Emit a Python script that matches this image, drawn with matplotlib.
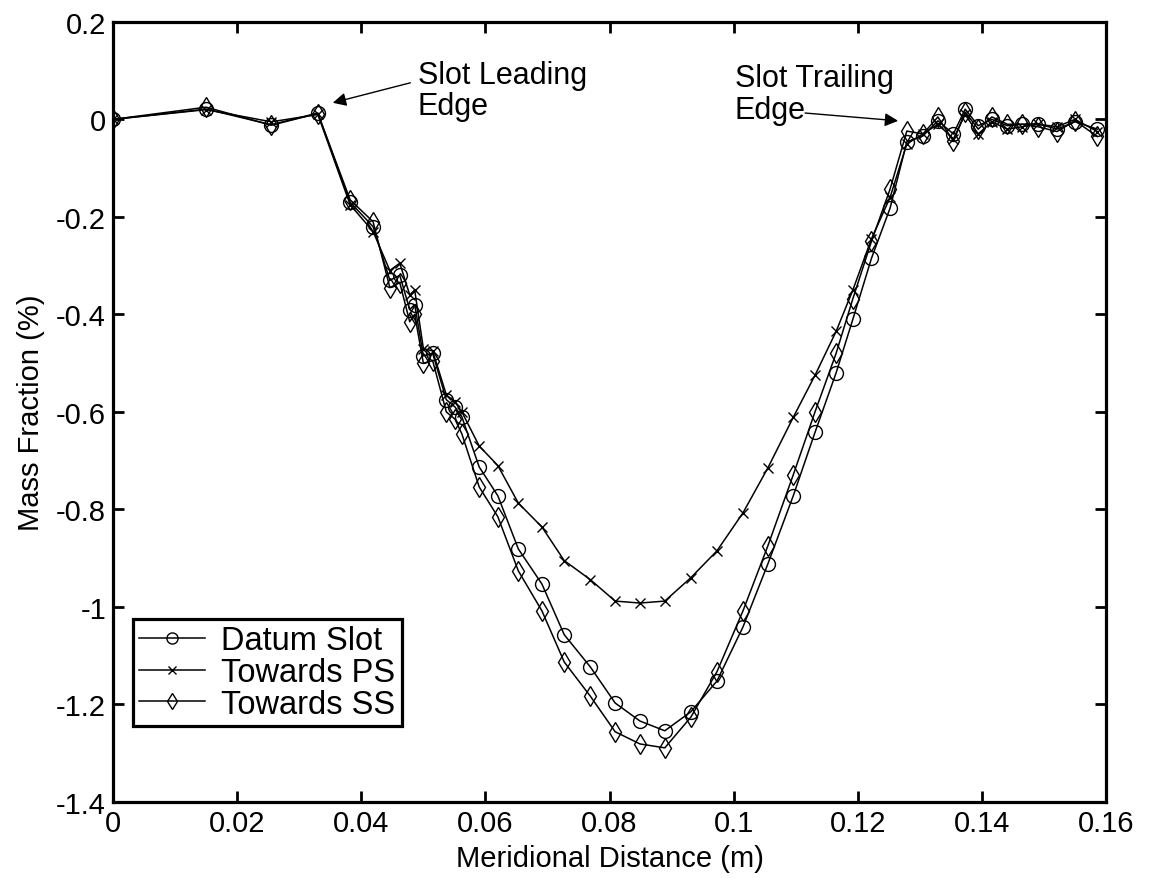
import matplotlib
matplotlib.use("Agg")
import matplotlib.pyplot as plt

# ---- data ----
x = [0.0, 0.015, 0.0255, 0.033, 0.0382, 0.0419, 0.0446, 0.0462, 0.0478, 0.0486,
     0.0500, 0.0515, 0.0537, 0.0551, 0.0562, 0.0590, 0.0620, 0.0653, 0.0691, 0.0727,
     0.0769, 0.0809, 0.0849, 0.0889, 0.0931, 0.0973, 0.1015, 0.1055, 0.1096, 0.1131,
     0.1165, 0.1192, 0.1222, 0.1252, 0.1279, 0.1305, 0.1329, 0.1354, 0.1373, 0.1394,
     0.1416, 0.1441, 0.1465, 0.1490, 0.1521, 0.1550, 0.1586]

datum = [0.0, 0.021, -0.011, 0.013, -0.170, -0.220, -0.330, -0.320, -0.390, -0.380,
         -0.485, -0.480, -0.575, -0.590, -0.610, -0.713, -0.772, -0.881, -0.953, -1.057,
         -1.123, -1.197, -1.234, -1.254, -1.215, -1.152, -1.041, -0.912, -0.772, -0.642,
         -0.520, -0.410, -0.285, -0.182, -0.046, -0.034, -0.003, -0.030, 0.021, -0.013,
         0.000, -0.013, -0.010, -0.009, -0.020, -0.005, -0.020]

towards_ps = [0.0, 0.020, -0.005, 0.010, -0.175, -0.230, -0.310, -0.295, -0.360, -0.350,
              -0.470, -0.475, -0.565, -0.580, -0.600, -0.670, -0.710, -0.787, -0.836, -0.905,
              -0.944, -0.988, -0.992, -0.988, -0.940, -0.885, -0.807, -0.715, -0.611, -0.525,
              -0.435, -0.350, -0.245, -0.160, -0.050, -0.030, -0.010, -0.040, 0.010, -0.030,
              -0.005, -0.020, -0.015, -0.010, -0.015, 0.000, -0.025]

towards_ss = [0.0, 0.025, -0.012, 0.012, -0.165, -0.210, -0.345, -0.335, -0.415, -0.400,
              -0.500, -0.495, -0.600, -0.615, -0.645, -0.754, -0.815, -0.926, -1.008, -1.113,
              -1.183, -1.256, -1.281, -1.289, -1.226, -1.133, -1.008, -0.875, -0.729, -0.600,
              -0.480, -0.368, -0.250, -0.143, -0.024, -0.030, 0.005, -0.045, 0.015, -0.020,
              0.005, -0.010, -0.010, -0.015, -0.025, -0.003, -0.035]

series_labels = ["Datum Slot", "Towards PS", "Towards SS"]
xticks = [0, 0.02, 0.04, 0.06, 0.08, 0.1, 0.12, 0.14, 0.16]
xtick_labels = ["0", "0.02", "0.04", "0.06", "0.08", "0.1", "0.12", "0.14", "0.16"]
yticks = [0.2, 0, -0.2, -0.4, -0.6, -0.8, -1, -1.2, -1.4]
ytick_labels = ["0.2", "0", "-0.2", "-0.4", "-0.6", "-0.8", "-1", "-1.2", "-1.4"]

# ---- figure ----
fig = plt.figure(figsize=(11.5, 8.79), dpi=100)
ax = fig.add_axes([0.0983, 0.0865, 0.8635, 0.8875])

font = ["Liberation Sans", "DejaVu Sans"]

lw = 1.1
ax.plot(x, datum, color="black", lw=lw, marker="o", ms=10, mfc="none",
        mec="black", mew=1.0, label=series_labels[0])
ax.plot(x, towards_ps, color="black", lw=lw, marker="x", ms=7,
        mec="black", mew=1.0, label=series_labels[1])
ax.plot(x, towards_ss, color="black", lw=lw, marker="d", ms=10.5, mfc="none",
        mec="black", mew=1.0, label=series_labels[2])

ax.set_xlim(0, 0.16)
ax.set_ylim(-1.4, 0.2)
ax.set_xticks(xticks)
ax.set_xticklabels(xtick_labels, family=font, fontsize=21)
ax.set_yticks(yticks)
ax.set_yticklabels(ytick_labels, family=font, fontsize=21)
ax.tick_params(direction="in", length=8, width=2, top=True, right=True, pad=5)
for sp in ax.spines.values():
    sp.set_linewidth(2.3)

ax.set_xlabel("Meridional Distance (m)", family=font, fontsize=21, labelpad=5)
ax.set_ylabel("Mass Fraction (%)", family=font, fontsize=21, labelpad=8)

# annotations
ax.text(0.0491, 0.060, "Slot Leading\nEdge", fontsize=22, family=font,
        ha="left", va="center", linespacing=1.05)
ax.annotate("", xy=(0.0354, 0.034), xytext=(0.0479, 0.075),
            arrowprops=dict(arrowstyle="-|>", color="black", lw=1.0,
                            mutation_scale=20, shrinkA=0, shrinkB=0))
ax.text(0.1002, 0.052, "Slot Trailing\nEdge", fontsize=22, family=font,
        ha="left", va="center", linespacing=1.05)
ax.annotate("", xy=(0.1265, -0.003), xytext=(0.1115, 0.013),
            arrowprops=dict(arrowstyle="-|>", color="black", lw=1.0,
                            mutation_scale=20, shrinkA=0, shrinkB=0))

leg = ax.legend(loc="lower left", bbox_to_anchor=(0.02, 0.097),
                prop={"family": font, "size": 23.5},
                frameon=True, fancybox=False, edgecolor="black", framealpha=1,
                handlelength=2.0, handletextpad=0.5, borderpad=0.2,
                labelspacing=0.02, borderaxespad=0, markerscale=0.8)
leg.get_frame().set_linewidth(2.3)

fig.savefig("out.png", dpi=100)
